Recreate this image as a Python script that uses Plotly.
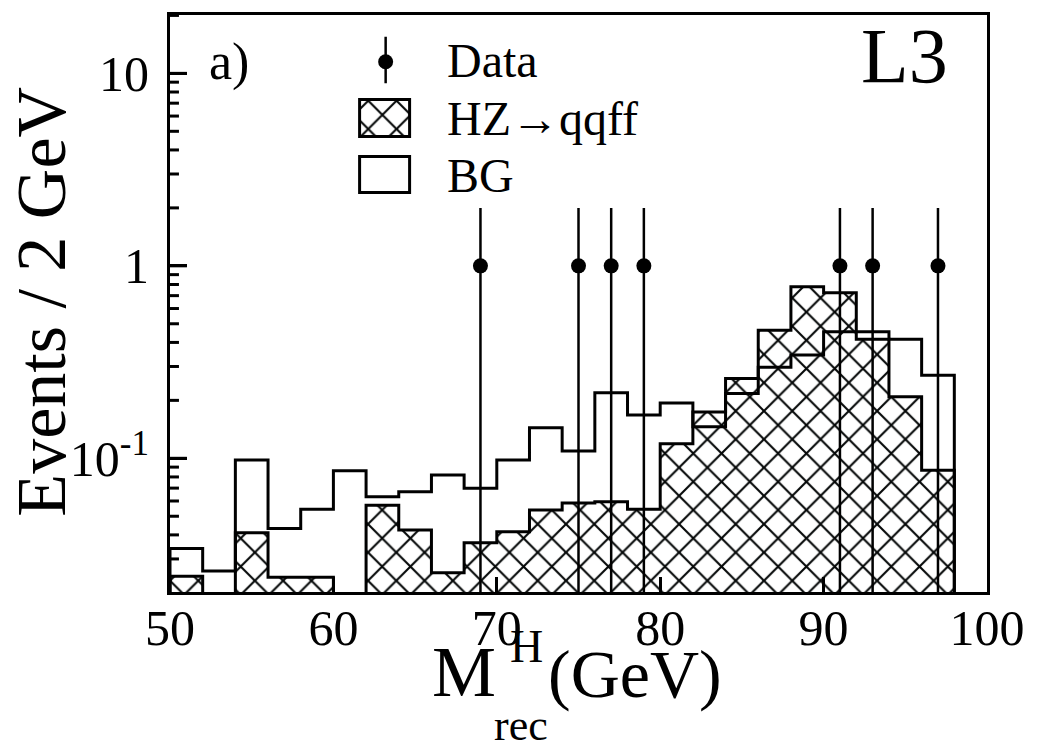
import math
import plotly.graph_objects as go

# ---------------- data ----------------
bin_centers = [51, 53, 55, 57, 59, 61, 63, 65, 67, 69, 71, 73,
               75, 77, 79, 81, 83, 85, 87, 89, 91, 93, 95, 97]
bin_width = 2.0
bg_values = [0.0340, 0.0260, 0.0979, 0.0432, 0.0543, 0.0861, 0.0631, 0.0670,
             0.0818, 0.0698, 0.0979, 0.144, 0.109, 0.219, 0.168, 0.194,
             0.146, 0.217, 0.297, 0.344, 0.454, 0.454, 0.415, 0.270]
hz_values = [0.0244, 0.0, 0.0410, 0.0241, 0.0241, 0.0, 0.0571, 0.0424,
             0.0254, 0.0364, 0.0415, 0.0538, 0.0585, 0.0594, 0.0543, 0.119,
             0.174, 0.260, 0.463, 0.778, 0.724, 0.415, 0.209, 0.0868]
data_x = [69, 75, 77, 79, 91, 93, 97]
data_y = [1, 1, 1, 1, 1, 1, 1]
data_err = [1, 1, 1, 1, 1, 1, 1]

x_tick_vals = [50, 60, 70, 80, 90, 100]
y_tick_vals = [0.1, 1, 10]
y_tick_text = ["10<sup>-1</sup>", "1", "10"]
y_minor_vals = [0.03, 0.04, 0.05, 0.06, 0.07, 0.08, 0.09,
                0.2, 0.3, 0.4, 0.5, 0.6, 0.7, 0.8, 0.9,
                2, 3, 4, 5, 6, 7, 8, 9, 20]

# ---------------- style ----------------
FONT = "Liberation Serif"
INK = "black"
FLOOR = 1e-4          # below the visible log range, used to close the step outlines
W, H = 1037, 750
ML, MR, MT, MB = 170, 46, 15, 158
PW, PH = W - ML - MR, H - MT - MB
Y_RANGE = [math.log10(0.0202), math.log10(20.1)]
HATCH = dict(shape="x", fgcolor="#050808", bgcolor="white", size=20,
             solidity=0.2, fgopacity=1, fillmode="replace")
MAJOR_LEN, MINOR_LEN = 17, 9


def paper(xp, yp):
    """layout helper: pixel position -> paper coordinates"""
    return (xp - ML) / PW, (H - MB - yp) / PH


def step_outline(centers, values, width):
    xs = [centers[0] - width / 2]
    ys = [FLOOR]
    for c, v in zip(centers, values):
        xs.append(c - width / 2)
        ys.append(v if v > 0 else FLOOR)
    xs.append(centers[-1] + width / 2)
    ys.append(ys[-1])
    xs.append(centers[-1] + width / 2)
    ys.append(FLOOR)
    return xs, ys


fig = go.Figure()

# hatched HZ histogram (fill only)
fig.add_trace(go.Bar(
    x=bin_centers, y=hz_values, width=bin_width,
    marker=dict(color="white", opacity=1, line=dict(width=0), pattern=HATCH),
    showlegend=False, hoverinfo="skip"))

# BG outline
bx, by = step_outline(bin_centers, bg_values, bin_width)
fig.add_trace(go.Scatter(x=bx, y=by, mode="lines", line_shape="hv",
                         line=dict(color=INK, width=3), showlegend=False,
                         hoverinfo="skip"))
# HZ outline
hx, hy = step_outline(bin_centers, hz_values, bin_width)
fig.add_trace(go.Scatter(x=hx, y=hy, mode="lines", line_shape="hv",
                         line=dict(color=INK, width=3), showlegend=False,
                         hoverinfo="skip"))

# data points
err_minus = [min(e, y - FLOOR) for e, y in zip(data_err, data_y)]
fig.add_trace(go.Scatter(
    x=data_x, y=data_y, mode="markers",
    marker=dict(color=INK, size=15, symbol="circle"),
    error_y=dict(type="data", symmetric=False, array=data_err,
                 arrayminus=err_minus, thickness=2.5, width=0, color=INK),
    showlegend=False, hoverinfo="skip"))

# ---------------- legend swatches on a small helper axis ----------------
LX0, LX1, LY0, LY1 = 355, 418, 30, 200
dx0, dy1 = paper(LX0, LY0)
dx1, dy0 = paper(LX1, LY1)
fig.add_trace(go.Scatter(
    x=[386.7], y=[61.7], mode="markers", xaxis="x2", yaxis="y2",
    marker=dict(color=INK, size=15),
    error_y=dict(type="data", symmetric=False, array=[21.6], arrayminus=[25],
                 thickness=2.5, width=0, color=INK),
    showlegend=False, hoverinfo="skip"))
fig.add_trace(go.Bar(
    x=[386.2], y=[37], base=[100], width=[51], xaxis="x2", yaxis="y2",
    marker=dict(color="white", line=dict(width=3, color=INK), pattern=HATCH),
    showlegend=False, hoverinfo="skip"))
fig.add_trace(go.Bar(
    x=[386.2], y=[36], base=[157], width=[51], xaxis="x2", yaxis="y2",
    marker=dict(color="white", line=dict(width=3, color=INK)),
    showlegend=False, hoverinfo="skip"))

# ---------------- annotations ----------------
ann = []


def text(s, xp, yp, size, xanchor="center", angle=0):
    x, y = paper(xp, yp)
    ann.append(dict(text=s, x=x, y=y, xref="paper", yref="paper",
                    xanchor=xanchor, yanchor="middle", showarrow=False,
                    textangle=angle, font=dict(family=FONT, size=size, color=INK)))


text("a)", 229, 62, 52)
text("L3", 908, 56, 78)
text("Data", 446, 61, 48, xanchor="left")
text("HZ\u2192qqff", 446, 118, 48, xanchor="left")
text("BG", 446, 175, 48, xanchor="left")
text("Events / 2 GeV", 40, 302, 70, angle=-90)
text("M", 465, 672, 72)
text("H", 528, 646, 46)
text("(GeV)", 637, 674, 68)
text("rec", 523, 725, 44)

# y tick marks drawn as short lines inside the frame (major long, minor short);
# shape coordinates on this log axis are given as data values
tick_marks = []
for v in y_tick_vals + y_minor_vals:
    length = MAJOR_LEN if v in y_tick_vals else MINOR_LEN
    tick_marks.append(dict(type="line", xref="paper", yref="y",
                           x0=0, x1=length / PW, y0=v, y1=v,
                           line=dict(color=INK, width=3), layer="above"))

fig.update_layout(
    width=W, height=H, margin=dict(l=ML, r=MR, t=MT, b=MB),
    paper_bgcolor="white", plot_bgcolor="white", barmode="overlay",
    bargap=0, showlegend=False, annotations=ann, shapes=tick_marks,
    xaxis=dict(range=[50, 100], tickmode="array", tickvals=x_tick_vals,
               ticks="inside", ticklen=15, tickwidth=3, tickcolor=INK,
               showline=True, linewidth=3, linecolor=INK, mirror=True,
               showgrid=False, zeroline=False, ticklabelstandoff=-10,
               tickfont=dict(family=FONT, size=50, color=INK)),
    yaxis=dict(type="log", range=Y_RANGE,
               tickmode="array", tickvals=y_tick_vals, ticktext=y_tick_text,
               ticks="inside", ticklen=MAJOR_LEN, tickwidth=3, tickcolor=INK,
               showline=True, linewidth=3, linecolor=INK, mirror=True,
               showgrid=False, zeroline=False, ticklabelstandoff=8,
               tickfont=dict(family=FONT, size=50, color=INK)),
    xaxis2=dict(domain=[dx0, dx1], range=[LX0, LX1], anchor="y2",
                visible=False, fixedrange=True),
    yaxis2=dict(domain=[dy0, dy1], range=[LY1, LY0], anchor="x2",
                visible=False, fixedrange=True),
)

fig.write_html("out.html")
